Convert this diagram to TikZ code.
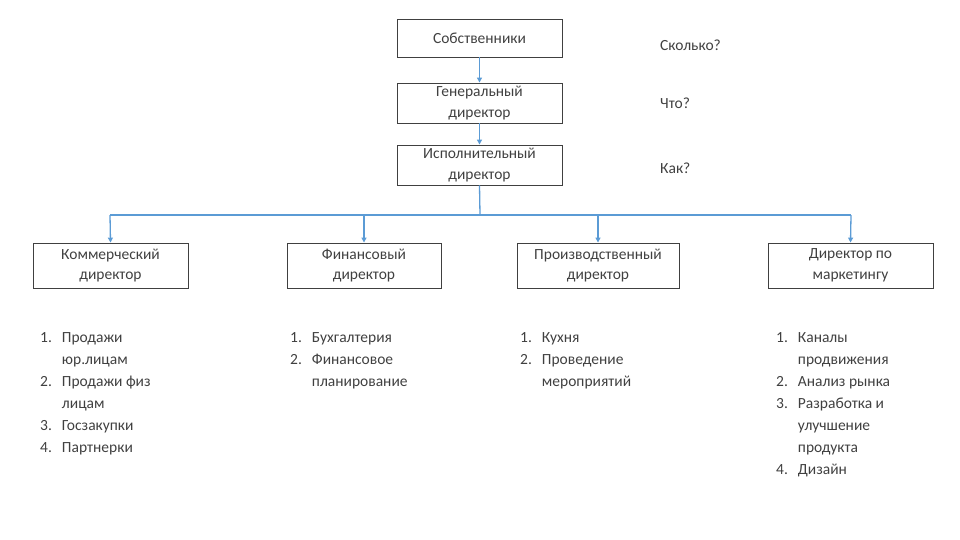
\documentclass[tikz,border=0pt]{standalone}
\usepackage{fontspec}
\setmainfont{Carlito}
\usetikzlibrary{arrows.meta}
\definecolor{ln}{HTML}{5B9BD5}
\definecolor{bx}{HTML}{404040}
\begin{document}
\begin{tikzpicture}[x=1pt,y=-1pt,
  box/.style={draw=bx,line width=0.9pt,minimum width=#1,minimum height=40pt,align=center,inner sep=1pt,font=\fontsize{15.5}{20.5}\selectfont,text=bx},
  box/.default=165pt,
  conn/.style={draw=ln,line width=1.3pt,-{Triangle[length=5pt,width=5pt]}},
  lst/.style={anchor=north west,inner sep=0pt,font=\fontsize{15.5}{21.5}\selectfont,text=bx},
  side/.style={anchor=west,inner sep=0pt,font=\fontsize{15.5}{17}\selectfont,text=bx}]
\useasboundingbox (0,0) rectangle (960,540);
\node[box,minimum height=38pt] (own) at (479.5,38) {Собственники};
\node[box] (gen) at (479.5,103) {Генеральный\\директор};
\node[box] (exe) at (479.5,165) {Исполнительный\\директор};
\node[box=155pt,minimum height=45pt] (com) at (110.5,265.5) {Коммерческий\\директор};
\node[box=154pt,minimum height=45pt] (fin) at (364,265.5) {Финансовый\\директор};
\node[box=162pt,minimum height=45pt] (pro) at (598,265.5) {Производственный\\директор};
\node[box=165pt,minimum height=45pt] (mar) at (850.5,265.5) {Директор по\\маркетингу};
\node[side] (q1) at (660,45) {Сколько?};
\node[side] (q2) at (660,103) {Что?};
\node[side] (q3) at (660,168) {Как?};
\draw[conn] (own.south) -- (gen.north);
\draw[conn] (gen.south) -- (exe.north);
\coordinate (j) at (480,215);
\draw[draw=ln,line width=1.3pt] (exe.south) -- (j);
\draw[draw=ln,line width=1.3pt] (110,215) -- (851,215);
\draw[conn] (110,215) -- (com.north);
\draw[conn] (364,215) -- (fin.north);
\draw[conn] (598,215) -- (pro.north);
\draw[conn] (851,215) -- (mar.north);
\def\arraystretch{1.02}
\node[lst] (l1) at (40,327) {\begin{tabular}{@{}l@{\hspace{10pt}}l@{}}1.&Продажи\\&юр.лицам\\2.&Продажи физ\\&лицам\\3.&Госзакупки\\4.&Партнерки\end{tabular}};
\node[lst] (l2) at (290,327) {\begin{tabular}{@{}l@{\hspace{10pt}}l@{}}1.&Бухгалтерия\\2.&Финансовое\\&планирование\end{tabular}};
\node[lst] (l3) at (520,327) {\begin{tabular}{@{}l@{\hspace{10pt}}l@{}}1.&Кухня\\2.&Проведение\\&мероприятий\end{tabular}};
\node[lst] (l4) at (776,327) {\begin{tabular}{@{}l@{\hspace{10pt}}l@{}}1.&Каналы\\&продвижения\\2.&Анализ рынка\\3.&Разработка и\\&улучшение\\&продукта\\4.&Дизайн\end{tabular}};
\end{tikzpicture}
\end{document}
